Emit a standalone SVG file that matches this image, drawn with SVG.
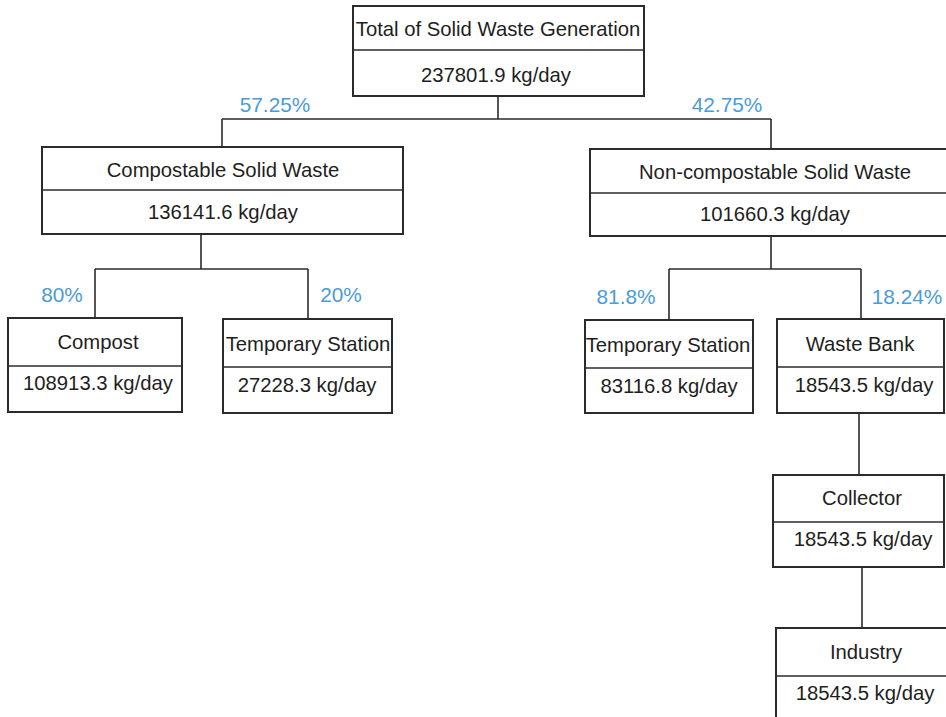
<svg xmlns="http://www.w3.org/2000/svg" width="946" height="717" viewBox="0 0 946 717">
<style>
.box{fill:#fff;stroke:#2b2b2b;stroke-width:2}
.div{stroke:#2b2b2b;stroke-width:1.6}
.t{font-family:"Liberation Sans",Arial,sans-serif;font-size:20.3px;fill:#1e1e1e;text-anchor:middle}
.p{font-family:"Liberation Sans",Arial,sans-serif;font-size:20.8px;fill:#4a9bd8;text-anchor:middle}
.c{fill:none;stroke:#2b2b2b;stroke-width:1.6}
</style>
<rect width="946" height="717" fill="#fff"/>
<g id="connectors">
<path class="c" d="M498 96V119M222 119H771M222 119V147M771 119V149"/>
<path class="c" d="M201 234V269M95 269H308M95 269V318M308 269V319"/>
<path class="c" d="M771 236V269M669 269H861M669 269V320M861 269V319"/>
<path class="c" d="M859 413V475M862 567V628"/>
</g>
<g id="labels">
<text class="p" x="275" y="112">57.25%</text>
<text class="p" x="727" y="112">42.75%</text>
<text class="p" x="62" y="302">80%</text>
<text class="p" x="341" y="302">20%</text>
<text class="p" x="626" y="304">81.8%</text>
<text class="p" x="907" y="304">18.24%</text>
</g>
<g id="total">
<rect class="box" x="353" y="6" width="291" height="90"/>
<line class="div" x1="353" y1="50" x2="644" y2="50"/>
<text class="t" x="498" y="36">Total of Solid Waste Generation</text>
<text class="t" x="496" y="82">237801.9 kg/day</text>
</g>
<g id="compostable">
<rect class="box" x="42" y="147" width="361" height="87"/>
<line class="div" x1="42" y1="190" x2="403" y2="190"/>
<text class="t" x="223" y="177">Compostable Solid Waste</text>
<text class="t" x="223" y="219">136141.6 kg/day</text>
</g>
<g id="noncompostable">
<rect class="box" x="590" y="149" width="380" height="87"/>
<line class="div" x1="590" y1="193" x2="970" y2="193"/>
<text class="t" x="775" y="179">Non-compostable Solid Waste</text>
<text class="t" x="775" y="221">101660.3 kg/day</text>
</g>
<g id="compost">
<rect class="box" x="8" y="318" width="174" height="94"/>
<line class="div" x1="8" y1="366" x2="182" y2="366"/>
<text class="t" x="98" y="349">Compost</text>
<text class="t" x="98" y="390">108913.3 kg/day</text>
</g>
<g id="temp1">
<rect class="box" x="223" y="319" width="169" height="94"/>
<line class="div" x1="223" y1="367" x2="392" y2="367"/>
<text class="t" x="308" y="351">Temporary Station</text>
<text class="t" x="307" y="392">27228.3 kg/day</text>
</g>
<g id="temp2">
<rect class="box" x="585" y="320" width="168" height="93"/>
<line class="div" x1="585" y1="368" x2="753" y2="368"/>
<text class="t" x="668" y="352">Temporary Station</text>
<text class="t" x="669" y="393">83116.8 kg/day</text>
</g>
<g id="wastebank">
<rect class="box" x="777" y="319" width="167" height="94"/>
<line class="div" x1="777" y1="367" x2="944" y2="367"/>
<text class="t" x="860" y="351">Waste Bank</text>
<text class="t" x="864" y="392">18543.5 kg/day</text>
</g>
<g id="collector">
<rect class="box" x="773" y="475" width="171" height="92"/>
<line class="div" x1="773" y1="522" x2="944" y2="522"/>
<text class="t" x="862" y="505">Collector</text>
<text class="t" x="863" y="546">18543.5 kg/day</text>
</g>
<g id="industry">
<rect class="box" x="776" y="628" width="200" height="110"/>
<line class="div" x1="776" y1="676" x2="976" y2="676"/>
<text class="t" x="866" y="659">Industry</text>
<text class="t" x="865" y="700">18543.5 kg/day</text>
</g>
</svg>
